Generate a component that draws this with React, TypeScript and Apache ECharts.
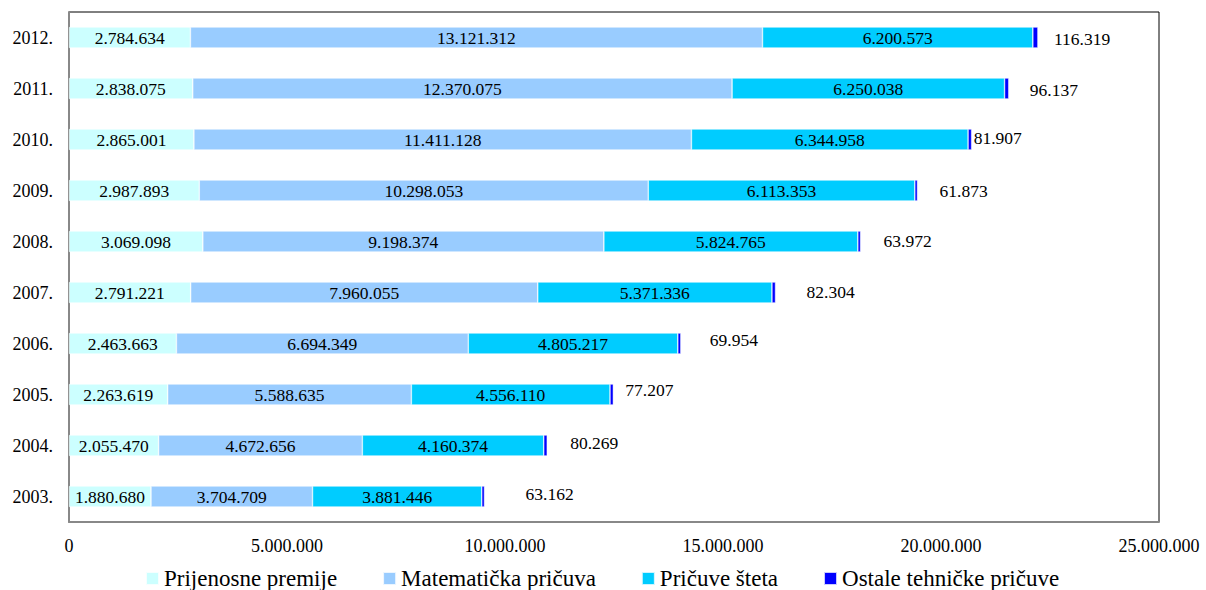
import React, { useEffect, useRef } from "react";
import * as echarts from "echarts";

const years = ["2003.", "2004.", "2005.", "2006.", "2007.", "2008.", "2009.", "2010.", "2011.", "2012."];
const prijenosne = [1880680, 2055470, 2263619, 2463663, 2791221, 3069098, 2987893, 2865001, 2838075, 2784634];
const matematicka = [3704709, 4672656, 5588635, 6694349, 7960055, 9198374, 10298053, 11411128, 12370075, 13121312];
const pricuveSteta = [3881446, 4160374, 4556110, 4805217, 5371336, 5824765, 6113353, 6344958, 6250038, 6200573];
const ostale = [63162, 80269, 77207, 69954, 82304, 63972, 61873, 81907, 96137, 116319];
const seriesNames = ["Prijenosne premije", "Matematička pričuva", "Pričuve šteta", "Ostale tehničke pričuve"];
const xTicks = [0, 5000000, 10000000, 15000000, 20000000, 25000000];

// label nudges (style only) for the last series labels: [dx, dy]
const ostaleLabelNudge: [number, number][] = [
  [41, -3], [23, -3], [12, -5], [29, -4], [31, -1], [23, -1], [22, 0], [2, -2], [21, 1], [16, 1],
];

const FONT = "Liberation Serif";

const fmt = (v: number) => String(Math.round(v)).replace(/\B(?=(\d{3})+(?!\d))/g, ".");

export default function App() {
  const ref = useRef<HTMLDivElement>(null);
  useEffect(() => {
    if (!ref.current) return;
    const chart = echarts.init(ref.current, null, { renderer: "svg" });
    const colors = ["#CCFFFF", "#99CCFF", "#00CCFF", "#0000FF"];
    const inside = (name: string, data: number[], color: string) => ({
      name,
      type: "bar",
      stack: "total",
      barWidth: 21,
      data,
      itemStyle: { color, borderColor: "rgba(255,255,255,0.8)", borderWidth: 0.6 },
      label: {
        show: true,
        position: "inside",
        color: "#000",
        fontFamily: FONT,
        fontSize: 17.5,
        formatter: (p: any) => fmt(p.value),
      },
    });
    chart.setOption({
      animation: false,
      color: colors,
      textStyle: { fontFamily: FONT },
      grid: {
        left: 69,
        right: 47,
        top: 12,
        bottom: 68,
        show: true,
        borderColor: "#000",
        borderWidth: 1,
        backgroundColor: "#fff",
      },
      legend: {
        top: 562,
        left: 140,
        itemWidth: 13,
        itemHeight: 13,
        itemGap: 45,
        icon: "rect",
        textStyle: { fontFamily: FONT, fontSize: 23, color: "#000" },
        data: seriesNames,
      },
      xAxis: {
        type: "value",
        min: xTicks[0],
        max: xTicks[xTicks.length - 1],
        interval: 5000000,
        splitLine: { show: false },
        axisLine: { show: true, lineStyle: { color: "#888", width: 2 } },
        axisTick: { show: false },
        axisLabel: {
          color: "#000",
          fontFamily: FONT,
          fontSize: 18,
          margin: 15,
          formatter: (v: number) => fmt(v),
        },
      },
      yAxis: {
        type: "category",
        data: years,
        axisLine: { show: true, lineStyle: { color: "#888", width: 2 } },
        axisTick: { show: false },
        axisLabel: { color: "#000", fontFamily: FONT, fontSize: 18, margin: 16 },
      },
      series: [
        inside(seriesNames[0], prijenosne, colors[0]),
        inside(seriesNames[1], matematicka, colors[1]),
        inside(seriesNames[2], pricuveSteta, colors[2]),
        {
          name: seriesNames[3],
          type: "bar",
          stack: "total",
          barWidth: 21,
          itemStyle: { color: colors[3], borderColor: "rgba(255,255,255,0.8)", borderWidth: 0.6 },
          data: ostale.map((v, i) => ({
            value: v,
            label: {
              show: true,
              position: "right",
              distance: 0,
              offset: ostaleLabelNudge[i],
              color: "#000",
              fontFamily: FONT,
              fontSize: 17.5,
              formatter: (p: any) => fmt(p.value),
            },
          })),
        },
      ],
    });
    return () => chart.dispose();
  }, []);
  return (
    <div
      ref={ref}
      style={{ position: "fixed", left: 0, top: 0, width: 1206, height: 590, background: "#fff" }}
    />
  );
}
